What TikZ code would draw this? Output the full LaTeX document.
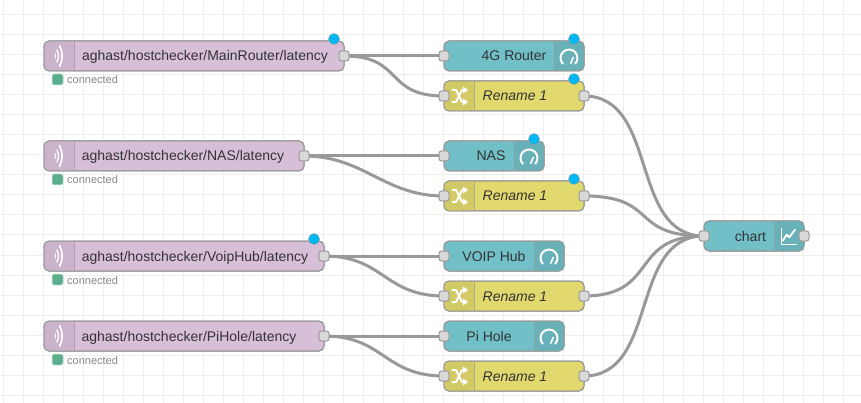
\documentclass[tikz,border=0pt]{standalone}
\usepackage{fontspec}
\setmainfont{Liberation Sans}
\pgfdeclarelayer{wires}
\pgfdeclarelayer{grid}
\pgfsetlayers{grid,wires,main}
\definecolor{gridc}{HTML}{EEEEEE}
\definecolor{edgec}{HTML}{999999}
\definecolor{mqttc}{HTML}{D8BFD8}
\definecolor{mqttd}{HTML}{CCB3CC}
\definecolor{tealc}{HTML}{71C0C8}
\definecolor{teald}{HTML}{68B1B8}
\definecolor{yelc}{HTML}{E2D96E}
\definecolor{yeld}{HTML}{D2CA66}
\definecolor{portc}{HTML}{D9D9D9}
\definecolor{txtc}{HTML}{333333}
\definecolor{statc}{HTML}{888888}
\definecolor{bluec}{HTML}{00B8F5}
\definecolor{greenc}{HTML}{5AAE8C}
\tikzset{
 x=1pt,y=-1pt,
 flowbox/.style={draw=edgec,line width=1pt,rounded corners=5pt,anchor=north west,minimum height=30pt,inner sep=0pt,outer sep=0pt},
 mqtt/.style={flowbox,fill=mqttc},
 teal/.style={flowbox,fill=tealc},
 yel/.style={flowbox,fill=yelc},
 port/.style={draw=edgec,fill=portc,line width=1pt,rounded corners=2.5pt,minimum size=10pt,inner sep=0pt,outer sep=0pt},
 wire/.style={draw=edgec,line width=3pt},
 lbl/.style={text=txtc,font=\fontsize{14}{16}\selectfont,inner sep=0pt,anchor=base},
 status/.style={text=statc,font=\fontsize{11}{13}\selectfont,inner sep=0pt,anchor=base west},
 dot/.style={circle,fill=bluec,draw=edgec,line width=.4pt,minimum size=11pt,inner sep=0pt},
 ledg/.style={fill=greenc,draw=white!75!greenc,line width=.5pt,rounded corners=2pt,minimum size=11pt,inner sep=0pt},
 icon/.style={draw=white,line width=1.5pt,line cap=round,line join=round},
}
% #1 name, #2 x, #3 y, #4 width, #5 label, #6 label centre x
\newcommand{\mqttnode}[6]{%
 \node[mqtt,minimum width=#4pt] (#1) at (#2,#3) {};
 \begin{scope}
  \clip[rounded corners=5pt] (#2,#3) rectangle ++(30,30);
  \fill[mqttd] (#2,#3) rectangle ++(30,30);
 \end{scope}
 \draw[edgec!60!mqttd,line width=.6pt] (#2+30,#3) -- ++(0,30);
 \draw[edgec,line width=1pt,rounded corners=5pt] (#1.north west) rectangle (#1.south east);
 \begin{scope}[shift={(#2+11,#3+15)},icon]
  \draw[line width=1pt] (0,-2.5) .. controls (1,-1) and (1,1) .. (0,2.5);
  \draw[line width=1.3pt] (2,-6) .. controls (4,-2) and (4,2) .. (2,6);
  \draw[line width=1.6pt] (4.5,-10.5) .. controls (8,-4) and (8,4) .. (4.5,10.5);
 \end{scope}
 \node[lbl] (#1t) at (#6,#3+20) {#5};
 \node[port] (#1o) at (#2+#4,#3+15) {};
 \node[ledg] (#1s) at (#2+13.5,#3+38.5) {};
 \node[status] (#1c) at (#2+23,#3+43) {connected};
}
\newcommand{\gaugenode}[6]{%
 \node[teal,minimum width=#4pt] (#1) at (#2,#3) {};
 \begin{scope}
  \clip[rounded corners=5pt] (#2+#4-30,#3) rectangle ++(30,30);
  \fill[teald] (#2+#4-30,#3) rectangle ++(30,30);
 \end{scope}
 \draw[edgec!60!teald,line width=.6pt] (#2+#4-30,#3) -- ++(0,30);
 \draw[edgec,line width=1pt,rounded corners=5pt] (#1.north west) rectangle (#1.south east);
 \begin{scope}[shift={(#2+#4-15,#3+17)},icon]
  \draw[line width=2pt,line cap=butt] (135:8.5) arc (135:405:8.5);
  \draw[line width=1.6pt] (1.7,5.3) -- (4.2,-0.6);
 \end{scope}
 \node[lbl] (#1t) at (#6,#3+20) {#5};
 \node[port] (#1i) at (#2,#3+15) {};
}
\newcommand{\renamenode}[3]{%
 \node[yel,minimum width=140pt] (#1) at (#2,#3) {};
 \begin{scope}
  \clip[rounded corners=5pt] (#2,#3) rectangle ++(30,30);
  \fill[yeld] (#2,#3) rectangle ++(30,30);
 \end{scope}
 \draw[edgec!60!yeld,line width=.6pt] (#2+30,#3) -- ++(0,30);
 \draw[edgec,line width=1pt,rounded corners=5pt] (#1.north west) rectangle (#1.south east);
 \begin{scope}[shift={(#2+15,#3+15)},icon]
  \draw[line width=2pt,line cap=butt] (-7,-6) -- (-3,-6) -- (3,6) -- (5,6);
  \draw[line width=2pt,line cap=butt] (-7,6) -- (-3,6) -- (3,-6) -- (5,-6);
  \fill[white] (4,-9.5) -- (9,-6) -- (4,-2.5) -- cycle;
  \fill[white] (4,9.5) -- (9,6) -- (4,2.5) -- cycle;
 \end{scope}
 \node[lbl,font=\fontsize{14}{16}\selectfont\itshape] (#1t) at (#2+71,#3+20) {Rename 1};
 \node[port] (#1i) at (#2,#3+15) {};
 \node[port] (#1o) at (#2+140,#3+15) {};
}
\begin{document}
\begin{tikzpicture}
\useasboundingbox (0,0) rectangle (861,403);
\begin{pgfonlayer}{grid}
 \fill[white] (0,0) rectangle (861,403);
 \foreach \gx in {3,23,...,863} \draw[gridc,line width=1pt] (\gx,0) -- (\gx,403);
 \foreach \gy in {15,35,...,395} \draw[gridc,line width=1pt] (0,\gy) -- (861,\gy);
\end{pgfonlayer}

\mqttnode{m1}{44}{41}{300}{aghast/hostchecker/MainRouter/latency}{205}
\mqttnode{m2}{44}{141}{260}{aghast/hostchecker/NAS/latency}{183}
\mqttnode{m3}{44}{241}{280}{aghast/hostchecker/VoipHub/latency}{195}
\mqttnode{m4}{44}{321}{280}{aghast/hostchecker/PiHole/latency}{189}

\gaugenode{g1}{444}{41}{140}{4G Router}{514}
\gaugenode{g2}{444}{141}{100}{NAS}{491}
\gaugenode{g3}{444}{241}{120}{VOIP Hub}{494}
\gaugenode{g4}{444}{321}{120}{Pi Hole}{489}

\renamenode{r1}{444}{81}
\renamenode{r2}{444}{181}
\renamenode{r3}{444}{281}
\renamenode{r4}{444}{361}

\node[teal,minimum width=100pt] (ch) at (704,221) {};
\begin{scope}
 \clip[rounded corners=5pt] (774,221) rectangle ++(30,30);
 \fill[teald] (774,221) rectangle ++(30,30);
\end{scope}
\draw[edgec!60!teald,line width=.6pt] (774,221) -- ++(0,30);
\draw[edgec,line width=1pt,rounded corners=5pt] (ch.north west) rectangle (ch.south east);
\begin{scope}[shift={(789,236)},icon]
 \draw[line width=1pt,line cap=butt] (-8,-8) -- (-8,8) -- (8,8);
 \draw[line width=1.8pt] (-6.3,4.7) -- (-2.3,-1.3) -- (.3,1.3) -- (6,-6.3);
\end{scope}
\node[lbl] (cht) at (750.5,241) {chart};
\node[port] (chi) at (704,236) {};
\node[port] (cho) at (804,236) {};

\node[dot] (d1) at (334,39) {};
\node[dot] (d2) at (574,39) {};
\node[dot] (d3) at (574,79) {};
\node[dot] (d4) at (534,139) {};
\node[dot] (d5) at (574,179) {};
\node[dot] (d6) at (314,239) {};

\begin{pgfonlayer}{wires}
 \foreach \a/\b in {m1o/g1i,m1o/r1i,m2o/g2i,m2o/r2i,m3o/g3i,m3o/r3i,m4o/g4i,m4o/r4i}
  \draw[wire] (\a.center) .. controls +(60,0) and +(-60,0) .. (\b.center);
 \foreach \a in {r1o,r2o,r3o,r4o}
  \draw[wire] (\a.center) .. controls +(75,0) and +(-75,0) .. (chi.center);
\end{pgfonlayer}
\end{tikzpicture}
\end{document}
